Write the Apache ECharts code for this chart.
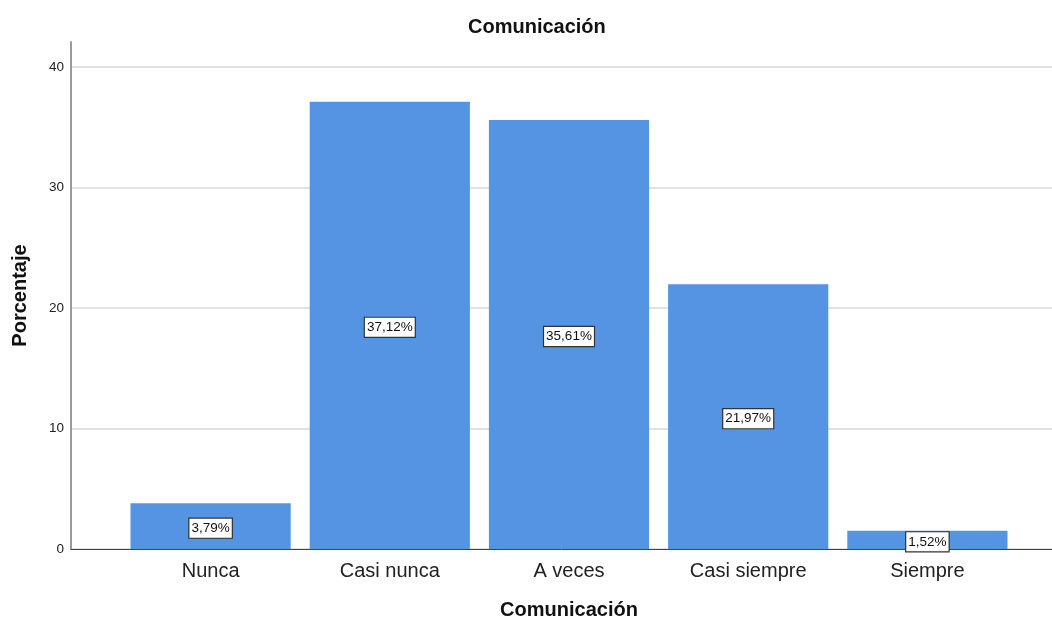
<!DOCTYPE html>
<html>
<head>
<meta charset="utf-8">
<script src="https://cdn.jsdelivr.net/npm/echarts@6/dist/echarts.min.js"></script>
<style>
  html, body { margin: 0; padding: 0; background: #fff; }
  #chart { width: 1052px; height: 619px; }
</style>
</head>
<body>
<div id="chart"></div>
<script>
// Distribución de respuestas para la dimensión Comunicación
const categories = ['Nunca', 'Casi nunca', 'A veces', 'Casi siempre', 'Siempre'];
const percentages = [3.79, 37.12, 35.61, 21.97, 1.52];
const yTicks = [0, 10, 20, 30, 40];

const FONT = "'Liberation Sans', Arial, sans-serif";
const chart = echarts.init(document.getElementById('chart'), null, { renderer: 'canvas' });

const yMin = yTicks[0];
const yMax = yTicks[yTicks.length - 1];
const yStep = yTicks[1] - yTicks[0];

chart.setOption({
  backgroundColor: '#ffffff',
  animation: false,
  title: {
    text: 'Comunicación',
    left: 463,
    top: 12,
    textStyle: { fontFamily: FONT, fontSize: 20, fontWeight: 'bold', color: '#111' }
  },
  grid: [
    // frame: tall y-axis line and baseline
    { left: 71, right: 0, top: 42, bottom: 70, outerBoundsMode: 'none' },
    // value scale with gridlines
    { left: 71, right: 0, top: 67, bottom: 70, outerBoundsMode: 'none' },
    // bars
    { left: 121, right: 35, top: 67, bottom: 70, outerBoundsMode: 'none' }
  ],
  xAxis: [
    {
      gridIndex: 0, type: 'value', min: 0, max: 1,
      axisLine: { show: true, lineStyle: { color: '#444', width: 1 } },
      axisTick: { show: false }, axisLabel: { show: false }, splitLine: { show: false }
    },
    {
      gridIndex: 1, type: 'value', min: 0, max: 1, show: false
    },
    {
      gridIndex: 2, type: 'category', data: categories,
      axisLine: { show: false }, axisTick: { show: false },
      axisLabel: { fontFamily: FONT, fontSize: 20, color: '#222', margin: 12 },
      name: 'Comunicación', nameLocation: 'middle', nameGap: 51,
      nameTextStyle: { fontFamily: FONT, fontSize: 20, fontWeight: 'bold', color: '#111' }
    }
  ],
  yAxis: [
    {
      gridIndex: 0, type: 'value', min: 0, max: 1,
      axisLine: { show: true, lineStyle: { color: '#9a9a9a', width: 2 } },
      axisTick: { show: false }, axisLabel: { show: false }, splitLine: { show: false },
      name: 'Porcentaje', nameLocation: 'middle', nameGap: 41, nameRotate: 90,
      nameTextStyle: { fontFamily: FONT, fontSize: 20, fontWeight: 'bold', color: '#111' }
    },
    {
      gridIndex: 1, type: 'value', min: yMin, max: yMax, interval: yStep,
      axisLine: { show: false }, axisTick: { show: false },
      axisLabel: { fontFamily: FONT, fontSize: 13.5, color: '#222', margin: 7 },
      splitLine: { show: true, lineStyle: { color: '#d9d9d9', width: 1.5 } }
    },
    {
      gridIndex: 2, type: 'value', min: yMin, max: yMax, interval: yStep, show: false
    }
  ],
  series: [
    {
      type: 'bar',
      xAxisIndex: 2, yAxisIndex: 2,
      data: percentages,
      barCategoryGap: '10.6%',
      itemStyle: { color: '#5594e3' },
      label: {
        show: true,
        position: 'inside',
        offset: [0, 2],
        formatter: p => p.value.toFixed(2).replace('.', ',') + '%',
        fontFamily: FONT, fontSize: 13.5, color: '#111',
        backgroundColor: '#ffffff',
        borderColor: '#333', borderWidth: 1.2,
        padding: [3, 2, 2, 2]
      }
    }
  ]
});
</script>
</body>
</html>
